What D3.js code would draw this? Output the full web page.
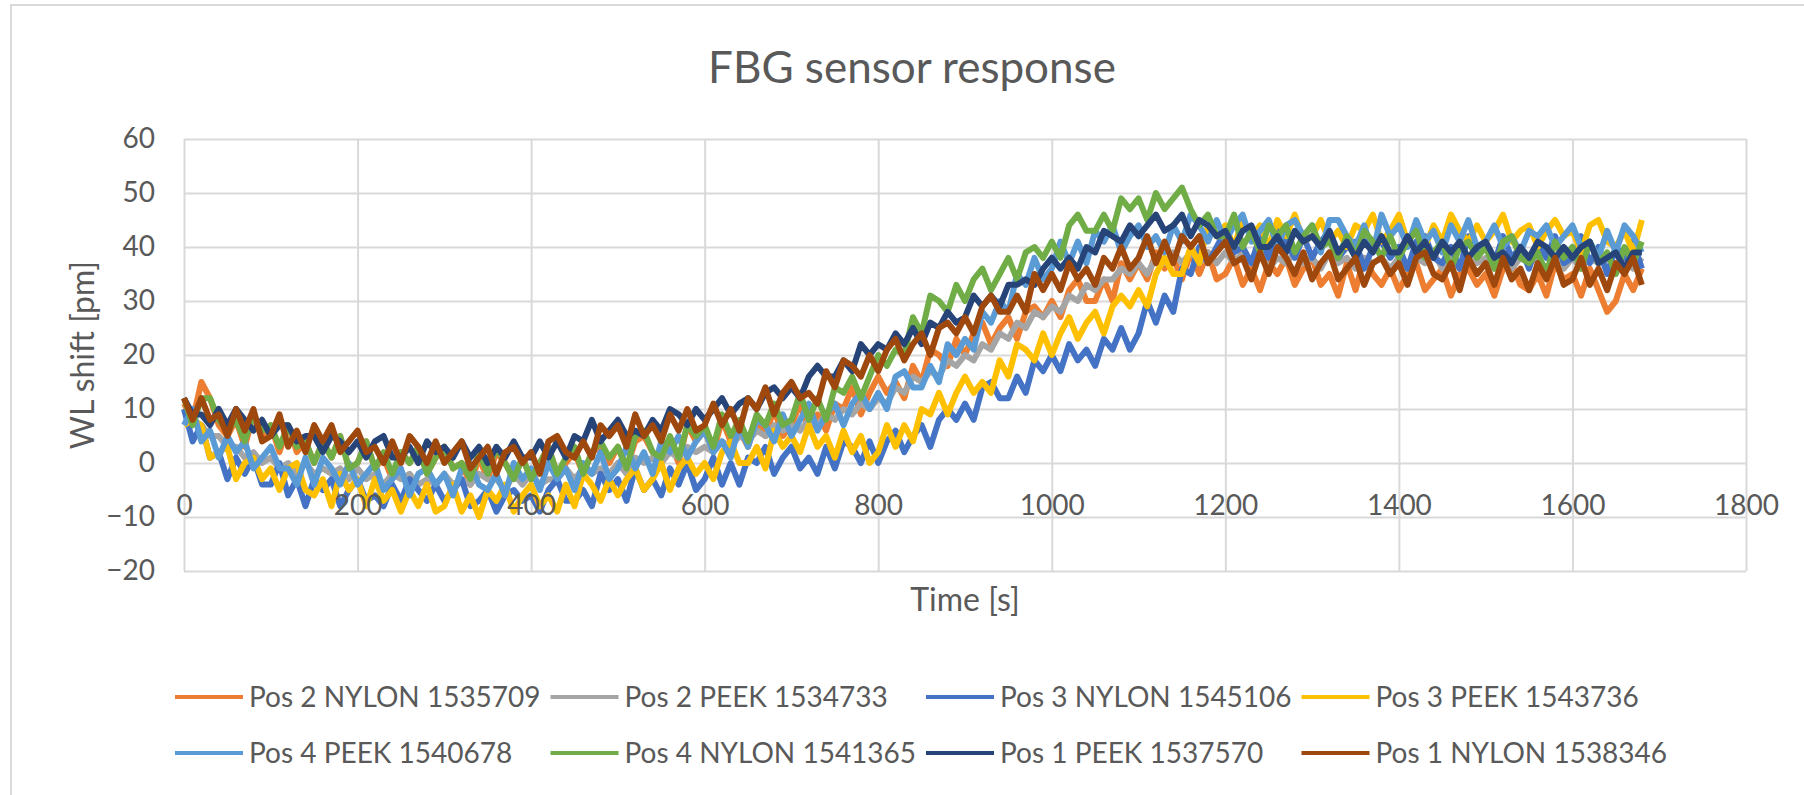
<!DOCTYPE html>
<html>
<head>
<meta charset="utf-8">
<script src="https://cdn.jsdelivr.net/npm/d3@7"></script>
<style>
body { margin: 0; background: #fff; }
text { font-family: Lato, "Open Sans", sans-serif; fill: #595959; }
</style>
</head>
<body>
<svg id="chart" width="1804" height="795"></svg>
<script>
// one sample every 10 s, 0 ... 1680 s
var times = d3.range(0, 1681, 10);

var xTicks = [0, 200, 400, 600, 800, 1000, 1200, 1400, 1600, 1800];
var yTicks = [-20, -10, 0, 10, 20, 30, 40, 50, 60];

var seriesNames = ["Pos 2 NYLON 1535709", "Pos 2 PEEK 1534733", "Pos 3 NYLON 1545106", "Pos 3 PEEK 1543736",
                   "Pos 4 PEEK 1540678", "Pos 4 NYLON 1541365", "Pos 1 PEEK 1537570", "Pos 1 NYLON 1538346"];
var seriesColors = ["#ED7D31", "#A5A5A5", "#4472C4", "#FFC000", "#5B9BD5", "#70AD47", "#264478", "#9E480E"];

// WL shift [pm]
var pos2Nylon = [
 11,8,15,12,7,5,8,3,9,5,
 7,2,7,2,4,0,4,1,5,-1,
 0,4,-1,1,-3,2,0,3,-2,1,
 3,-1,0,-4,1,-3,2,0,-3,1,
 -3,0,3,-2,0,2,-2,2,3,0,
 3,-1,4,5,2,1,4,0,7,4,
 6,2,8,4,6,3,8,5,10,5,
 7,11,6,9,6,11,10,14,9,13,
 16,13,15,12,18,15,21,20,18,23,
 20,24,26,22,25,27,23,28,29,27,
 30,27,32,34,30,30,34,30,37,34,
 37,34,39,36,38,34,39,35,39,34,
 35,38,33,36,32,37,35,38,33,36,
 38,33,35,31,37,32,38,35,33,36,
 32,35,37,32,34,36,31,35,36,33,
 35,31,36,37,33,32,35,31,37,34,
 35,31,36,32,28,30,35,32,36];

var pos2Peek = [
 10,8,7,5,5,3,3,1,2,0,
 1,-1,0,-2,0,-2,-1,-2,-1,-3,
 -1,-3,-2,-4,-2,-3,-2,-4,-3,-4,
 -2,-4,-3,-4,-2,-3,-3,-5,-2,-4,
 -2,-4,-3,-3,-1,-3,-1,-2,-1,-2,
 0,-2,1,0,1,0,2,1,3,2,
 3,2,4,3,5,4,6,5,7,6,
 7,6,8,7,9,8,10,9,11,10,
 12,11,14,13,16,15,17,16,19,18,
 20,19,22,21,24,23,26,25,28,27,
 29,28,31,30,33,32,34,34,36,35,
 37,35,38,37,39,37,39,37,39,37,
 39,37,39,37,39,36,38,37,39,37,
 38,36,39,37,38,36,38,37,38,36,
 38,36,38,37,39,36,38,36,38,37,
 38,36,38,36,38,37,38,36,38,36,
 38,36,38,37,38,36,38,36,38];

var pos3Nylon = [
 10,4,7,1,2,-3,1,-2,1,-4,
 -4,0,-6,-3,-8,-3,-5,-3,-8,-5,
 -3,-7,-6,-8,-4,-7,-3,-5,-7,-4,
 -7,-5,-3,-8,-7,-5,-9,-6,-5,-7,
 -6,-9,-5,-3,-7,-7,-5,-8,-2,-5,
 -3,-7,-1,-5,-3,-6,-1,-4,0,-5,
 -3,1,-4,0,-4,1,0,3,-2,1,
 3,-1,1,-2,3,-1,4,3,0,4,
 0,4,6,2,5,7,3,8,10,8,
 11,8,14,15,12,12,16,13,19,17,
 20,17,22,19,21,18,23,21,25,21,
 24,30,26,31,28,36,35,40,37,40,
 43,39,40,37,42,38,43,41,38,42,
 38,41,43,38,40,41,36,40,41,38,
 40,36,41,42,38,37,40,36,42,39,
 41,37,42,38,40,36,41,38,42,37,
 38,42,37,40,35,40,38,41,36];

var pos3Peek = [
 7,8,7,1,2,3,-3,0,1,-3,
 -1,-5,-1,0,-5,-6,-3,-8,-2,-5,
 -3,-8,-3,-7,-5,-9,-5,-8,-4,-9,
 -8,-4,-9,-6,-10,-5,-7,-4,-9,-6,
 -4,-8,-6,-9,-4,-8,-2,-4,-7,-3,
 -6,-3,-1,-5,-3,0,-5,-1,1,-2,
 0,-3,2,4,0,0,3,-1,6,3,
 5,2,7,3,5,1,6,2,5,0,
 2,7,3,7,4,10,9,13,9,13,
 16,13,15,13,19,16,22,21,19,24,
 20,24,27,23,26,28,24,29,31,29,
 32,29,35,38,35,35,40,37,44,42,
 44,40,45,42,44,40,45,42,46,41,
 42,45,41,43,40,44,43,46,41,43,
 46,41,43,40,44,41,46,43,41,44,
 41,43,46,41,43,44,40,43,45,42,
 43,39,44,45,41,40,43,39,45];

var pos4Peek = [
 7,10,4,6,1,5,2,4,-1,1,
 3,-1,-1,-4,1,-4,1,-1,-4,0,
 -4,-2,0,-5,-3,-1,-6,-2,-1,-4,
 -2,-6,-1,0,-4,-5,-2,-6,0,-3,
 -1,-5,0,-3,-1,-5,0,-2,2,-3,
 -1,3,-1,2,-2,4,2,5,1,4,
 6,2,4,1,7,3,8,7,4,9,
 5,8,11,6,9,11,7,11,13,10,
 13,10,16,17,14,14,18,15,22,20,
 23,21,28,26,30,28,35,33,38,34,
 36,41,37,41,37,43,41,44,39,42,
 44,40,42,39,44,41,46,44,41,45,
 41,44,46,41,43,45,40,44,45,42,
 44,39,45,45,42,40,44,39,46,42,
 44,40,45,41,43,39,44,41,45,40,
 41,44,40,42,39,43,42,44,40,42,
 44,40,41,38,43,39,44,42,39];

var pos4Nylon = [
 12,7,12,12,8,6,8,4,9,6,
 7,3,7,3,4,0,4,1,5,-1,
 0,4,-1,2,-2,2,0,3,-2,1,
 3,-1,0,-3,2,-2,3,0,-3,1,
 -3,0,3,-2,1,3,-2,2,4,1,
 3,-1,5,6,2,1,5,1,7,5,
 7,3,9,5,8,4,9,7,11,7,
 8,13,8,12,8,14,13,16,12,16,
 20,18,21,20,27,24,31,30,28,33,
 30,34,36,32,35,38,34,39,40,38,
 41,38,44,46,43,43,46,43,49,47,
 49,45,50,47,49,51,47,44,46,42,
 42,46,40,43,39,44,42,44,39,42,
 44,40,41,38,42,38,43,41,38,42,
 38,41,43,38,39,41,36,40,41,38,
 40,36,41,42,38,37,39,35,41,38,
 40,36,41,37,39,35,40,37,41];

var pos1Peek = [
 12,9,9,7,10,7,10,8,6,8,
 5,7,7,4,5,5,2,5,4,2,
 4,1,4,5,1,1,3,0,4,2,
 3,1,4,1,3,0,3,1,4,1,
 1,4,1,4,1,5,4,8,4,6,
 8,5,6,5,8,6,10,9,7,10,
 8,10,12,9,11,12,10,13,14,12,
 14,12,16,18,16,16,19,17,22,20,
 22,21,24,22,25,22,26,25,28,26,
 27,31,29,31,29,33,33,34,33,36,
 38,36,38,36,40,39,43,42,41,44,
 42,44,46,43,44,46,42,45,44,42,
 43,40,43,44,40,40,42,39,43,41,
 42,40,43,39,41,38,41,39,42,39,
 39,42,39,41,38,41,39,41,38,40,
 41,38,39,37,40,38,41,40,38,40,
 38,40,41,37,38,39,36,39,39];

var pos1Nylon = [
 12,8,12,8,9,5,10,6,10,4,
 5,9,3,6,2,7,4,7,2,4,
 6,2,3,0,4,0,5,3,0,4,
 0,2,4,-1,1,3,-2,2,3,0,
 2,-2,4,5,2,1,4,1,7,5,
 7,3,9,5,7,4,9,6,10,6,
 7,11,7,10,6,12,10,14,9,13,
 15,12,13,11,17,14,19,18,16,20,
 17,21,23,19,22,24,20,25,26,24,
 27,24,29,31,28,28,31,28,35,32,
 35,32,37,34,36,33,38,36,40,36,
 38,42,37,41,37,42,40,42,37,39,
 41,37,38,34,39,35,40,38,35,39,
 34,37,39,34,36,38,33,37,38,35,
 37,33,38,39,35,34,37,32,38,35,
 37,33,38,34,36,32,37,34,38,33,
 34,38,33,36,32,37,35,38,33];

var seriesValues = [pos2Nylon, pos2Peek, pos3Nylon, pos3Peek, pos4Peek, pos4Nylon, pos1Peek, pos1Nylon];

var svg = d3.select("#chart");
var margin = {top: 139, left: 184};
var width = 1562, height = 432;

// chart frame (right edge falls outside the picture)
svg.append("rect")
    .attr("x", 11).attr("y", 5)
    .attr("width", 1830).attr("height", 830)
    .attr("fill", "#fff")
    .attr("stroke", "#d9d9d9")
    .attr("stroke-width", 2);

var g = svg.append("g").attr("transform", "translate(" + margin.left + "," + margin.top + ")");

var x = d3.scaleLinear().domain([0, 1800]).range([0, width]);
var y = d3.scaleLinear().domain([-20, 60]).range([height, 0]);

//gridlines
g.append("g")
    .attr("class", "grid")
    .call(d3.axisLeft(y).tickValues(yTicks).tickSize(-width).tickFormat(""));
g.append("g")
    .attr("class", "grid")
    .attr("transform", "translate(0," + height + ")")
    .call(d3.axisBottom(x).tickValues(xTicks).tickSize(-height).tickFormat(""));
g.selectAll(".grid .domain").remove();
g.selectAll(".grid line").attr("stroke", "#d9d9d9").attr("stroke-width", 2);

//lines
var line = d3.line()
    .x(function(d, i){ return x(times[i]); })
    .y(function(d){ return y(d); });

g.selectAll(".series")
    .data(seriesValues)
    .enter()
    .append("path")
    .attr("class", "series")
    .attr("d", line)
    .attr("fill", "none")
    .attr("stroke", function(d, i){ return seriesColors[i]; })
    .attr("stroke-width", 6)
    .attr("stroke-linejoin", "round");

//tick labels
g.append("g")
    .call(d3.axisLeft(y).tickValues(yTicks).tickSize(0).tickPadding(29).tickFormat(d3.format("d")));
g.append("g")
    .attr("transform", "translate(0," + y(0) + ")")
    .call(d3.axisBottom(x).tickValues(xTicks).tickSize(0).tickPadding(32).tickFormat(d3.format("d")));
g.selectAll(".domain").remove();
g.selectAll(".tick text")
    .attr("font-size", 28)
    .attr("font-family", "Lato")
    .attr("fill", "#595959");

//titles
svg.append("text")
    .attr("x", 912).attr("y", 83)
    .attr("text-anchor", "middle")
    .attr("font-size", 44)
    .text("FBG sensor response");

svg.append("text")
    .attr("x", margin.left + width / 2).attr("y", 611)
    .attr("text-anchor", "middle")
    .attr("font-size", 32)
    .text("Time [s]");

svg.append("text")
    .attr("transform", "translate(94," + (margin.top + height / 2) + ") rotate(-90)")
    .attr("text-anchor", "middle")
    .attr("font-size", 32)
    .text("WL shift [pm]");

//legend
var legend = svg.selectAll(".legend")
    .data(seriesNames)
    .enter()
    .append("g")
    .attr("class", "legend")
    .attr("transform", function(d, i){
        return "translate(" + (175 + (i % 4) * 375.5) + "," + (i < 4 ? 697 : 753) + ")";
    });
legend.append("line")
    .attr("x1", 0).attr("x2", 68)
    .attr("stroke", function(d, i){ return seriesColors[i]; })
    .attr("stroke-width", 4);
legend.append("text")
    .attr("x", 74)
    .attr("dy", "0.36em")
    .attr("font-size", 28)
    .text(function(d){ return d; });
</script>
</body>
</html>
